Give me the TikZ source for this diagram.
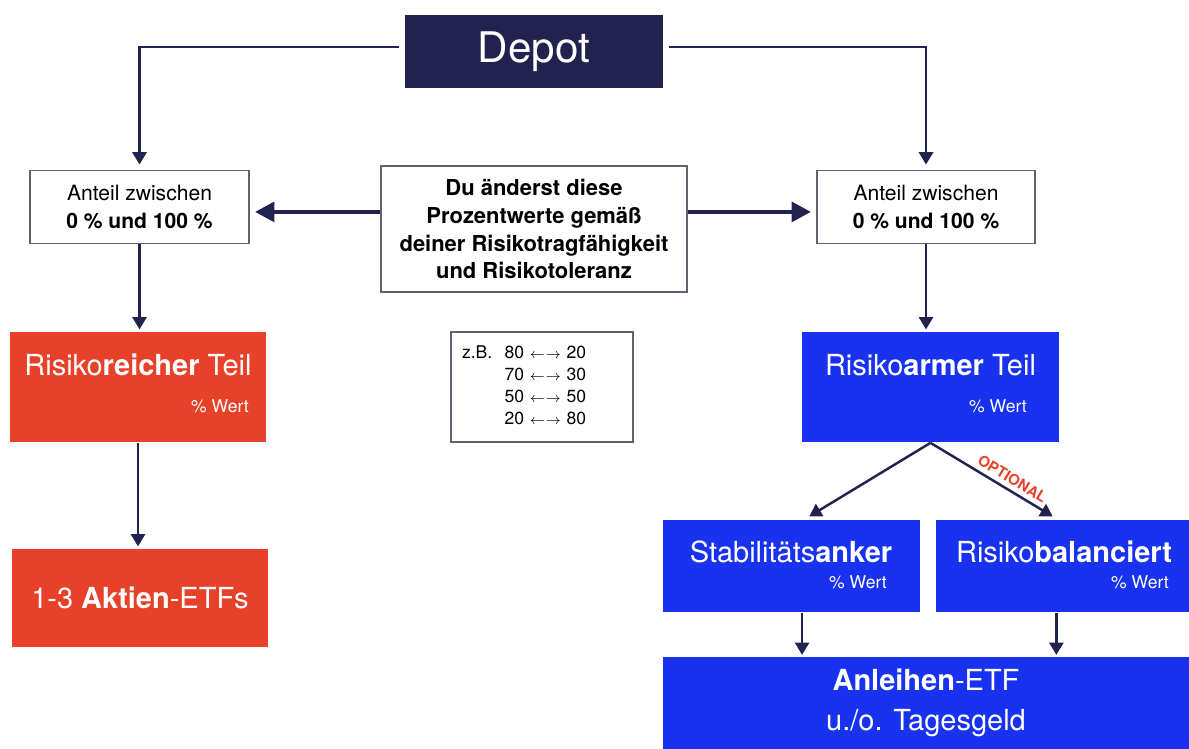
\documentclass[tikz,border=0pt]{standalone}
\usepackage{fontspec}
\setmainfont{TeX Gyre Heros}
\usepackage{xcolor}
\usetikzlibrary{arrows.meta}
\definecolor{depotnavy}{RGB}{34,34,78}
\definecolor{riskred}{RGB}{232,65,42}
\definecolor{safeblue}{RGB}{24,50,240}
\definecolor{framegray}{RGB}{95,98,115}
\newcommand{\swaparrows}{{\fontsize{8}{9}\selectfont$\leftarrow$\kern0.5pt$\rightarrow$}}

\begin{document}
\begin{tikzpicture}[x=0.02cm,y=-0.02cm,
	whitebox/.style={draw=framegray,line width=0.8pt,fill=white,align=center,text=black},
	redbox/.style={fill=riskred,inner sep=0pt,text=white,align=center},
	bluebox/.style={fill=safeblue,inner sep=0pt,text=white,align=center},
	bigtext/.style={text=white,font=\fontsize{16.5}{22.7}\selectfont},
	werttext/.style={text=white,anchor=east,font=\fontsize{10}{12}\selectfont},
	arrowline/.style={draw=depotnavy,line width=1.5pt,-{Triangle[length=7pt,width=8pt]}},
	fatarrow/.style={draw=depotnavy,line width=2.6pt,-{Triangle[length=11pt,width=11pt]}}]
					\useasboundingbox (0,0) rectangle (1189,749);
					% Top and the two shares
					\node[fill=depotnavy,text=white,minimum width=5.16cm,minimum height=1.46cm,font=\fontsize{24}{28}\selectfont] (depot) at (534,51.5) {Depot};
					\node[whitebox,minimum width=4.38cm,minimum height=1.46cm,font=\fontsize{12}{15.9}\selectfont] (lanteil) at (139.5,207) {Anteil zwischen\\\textbf{0 \% und 100 \%}};
					\node[whitebox,minimum width=4.36cm,minimum height=1.46cm,font=\fontsize{12}{15.9}\selectfont] (ranteil) at (926,207) {Anteil zwischen\\\textbf{0 \% und 100 \%}};
					\node[whitebox,minimum width=6.12cm,minimum height=2.52cm,font=\bfseries\fontsize{12.5}{15.9}\selectfont] (mid) at (534,229) {Du änderst diese\\Prozentwerte gemäß\\deiner Risikotragfähigkeit\\und Risikotoleranz};
					\node[whitebox,minimum width=3.64cm,minimum height=2.2cm,text width=3.2cm,align=left,font=\fontsize{10}{12.5}\selectfont] (zb) at (542,387) {\begin{tabular}{@{}l@{\hspace{7pt}}l@{}}
						z.B. & 80 \swaparrows{} 20\\
						& 70 \swaparrows{} 30\\
						& 50 \swaparrows{} 50\\
						& 20 \swaparrows{} 80
					\end{tabular}};
					% Risky part
					\node[redbox,minimum width=5.12cm,minimum height=2.22cm] (rr) at (138,387) {};
					\node[bigtext] (rrtitle) at (138,365) {Risiko\textbf{reicher} Teil};
					\node[werttext] (rrwert) at (255,406) {\% Wert};
					\node[redbox,minimum width=5.12cm,minimum height=1.98cm,font=\fontsize{16.5}{20}\selectfont] (ak) at (140,598) {1-3 \textbf{Aktien}-ETFs};
					% Low-risk part
					\node[bluebox,minimum width=5.14cm,minimum height=2.22cm] (ra) at (930.5,387) {};
					\node[bigtext] (ratitle) at (930.5,365) {Risiko\textbf{armer} Teil};
					\node[werttext] (rawert) at (1033,406) {\% Wert};
					\node[bluebox,minimum width=5.14cm,minimum height=1.86cm] (sa) at (791.5,566) {};
					\node[bigtext] (satitle) at (791,552) {Stabilitäts\textbf{anker}};
					\node[werttext] (sawert) at (893,582) {\% Wert};
					\node[bluebox,minimum width=5.06cm,minimum height=1.86cm] (rb) at (1062.5,566) {};
					\node[bigtext] (rbtitle) at (1064,552) {Risiko\textbf{balanciert}};
					\node[werttext] (rbwert) at (1175,582) {\% Wert};
					\node[bluebox,minimum width=10.52cm,minimum height=1.84cm,font=\fontsize{16.5}{22.7}\selectfont] (an) at (926,703) {\textbf{Anleihen}-ETF\\u./o. Tagesgeld};
					% Connectors
					\draw[arrowline,shorten <=3.5pt,shorten >=3pt] ([yshift=2.5pt]depot.west) -| (lanteil.north);
					\draw[arrowline,shorten <=3pt,shorten >=3pt] ([yshift=2.5pt]depot.east) -| (ranteil.north);
					\draw[fatarrow,shorten >=3pt] ([yshift=-2.8pt]lanteil.east -| mid.west) -- ([yshift=-2.8pt]lanteil.east);
					\draw[fatarrow,shorten >=3pt] ([yshift=-2.8pt]ranteil.west -| mid.east) -- ([yshift=-2.8pt]ranteil.west);
					\draw[arrowline,shorten >=1pt] (lanteil.south) -- (lanteil.south |- rr.north);
					\draw[arrowline,shorten >=1pt] (rr.south) -- (rr.south |- ak.north);
					\draw[arrowline,shorten >=1pt] (ranteil.south) -- (ranteil.south |- ra.north);
					\draw[arrowline,line width=1.4pt,shorten >=3pt] (ra.south) -- ([xshift=7.5pt]sa.north);
					\draw[arrowline,line width=1.4pt,shorten >=3pt] (ra.south) -- ([xshift=-3pt]rb.north)
						node[pos=0.6,sloped,above=1.5pt,inner sep=1pt,text=riskred,font=\bfseries\fontsize{8.5}{10}\selectfont] (opt) {OPTIONAL};
					\draw[arrowline,shorten >=1pt] ([xshift=6pt]sa.south) -- ([xshift=6pt]sa.south |- an.north);
					\draw[arrowline,shorten >=1pt] ([xshift=-3.5pt]rb.south) -- ([xshift=-3.5pt]rb.south |- an.north);
\end{tikzpicture}
\end{document}
